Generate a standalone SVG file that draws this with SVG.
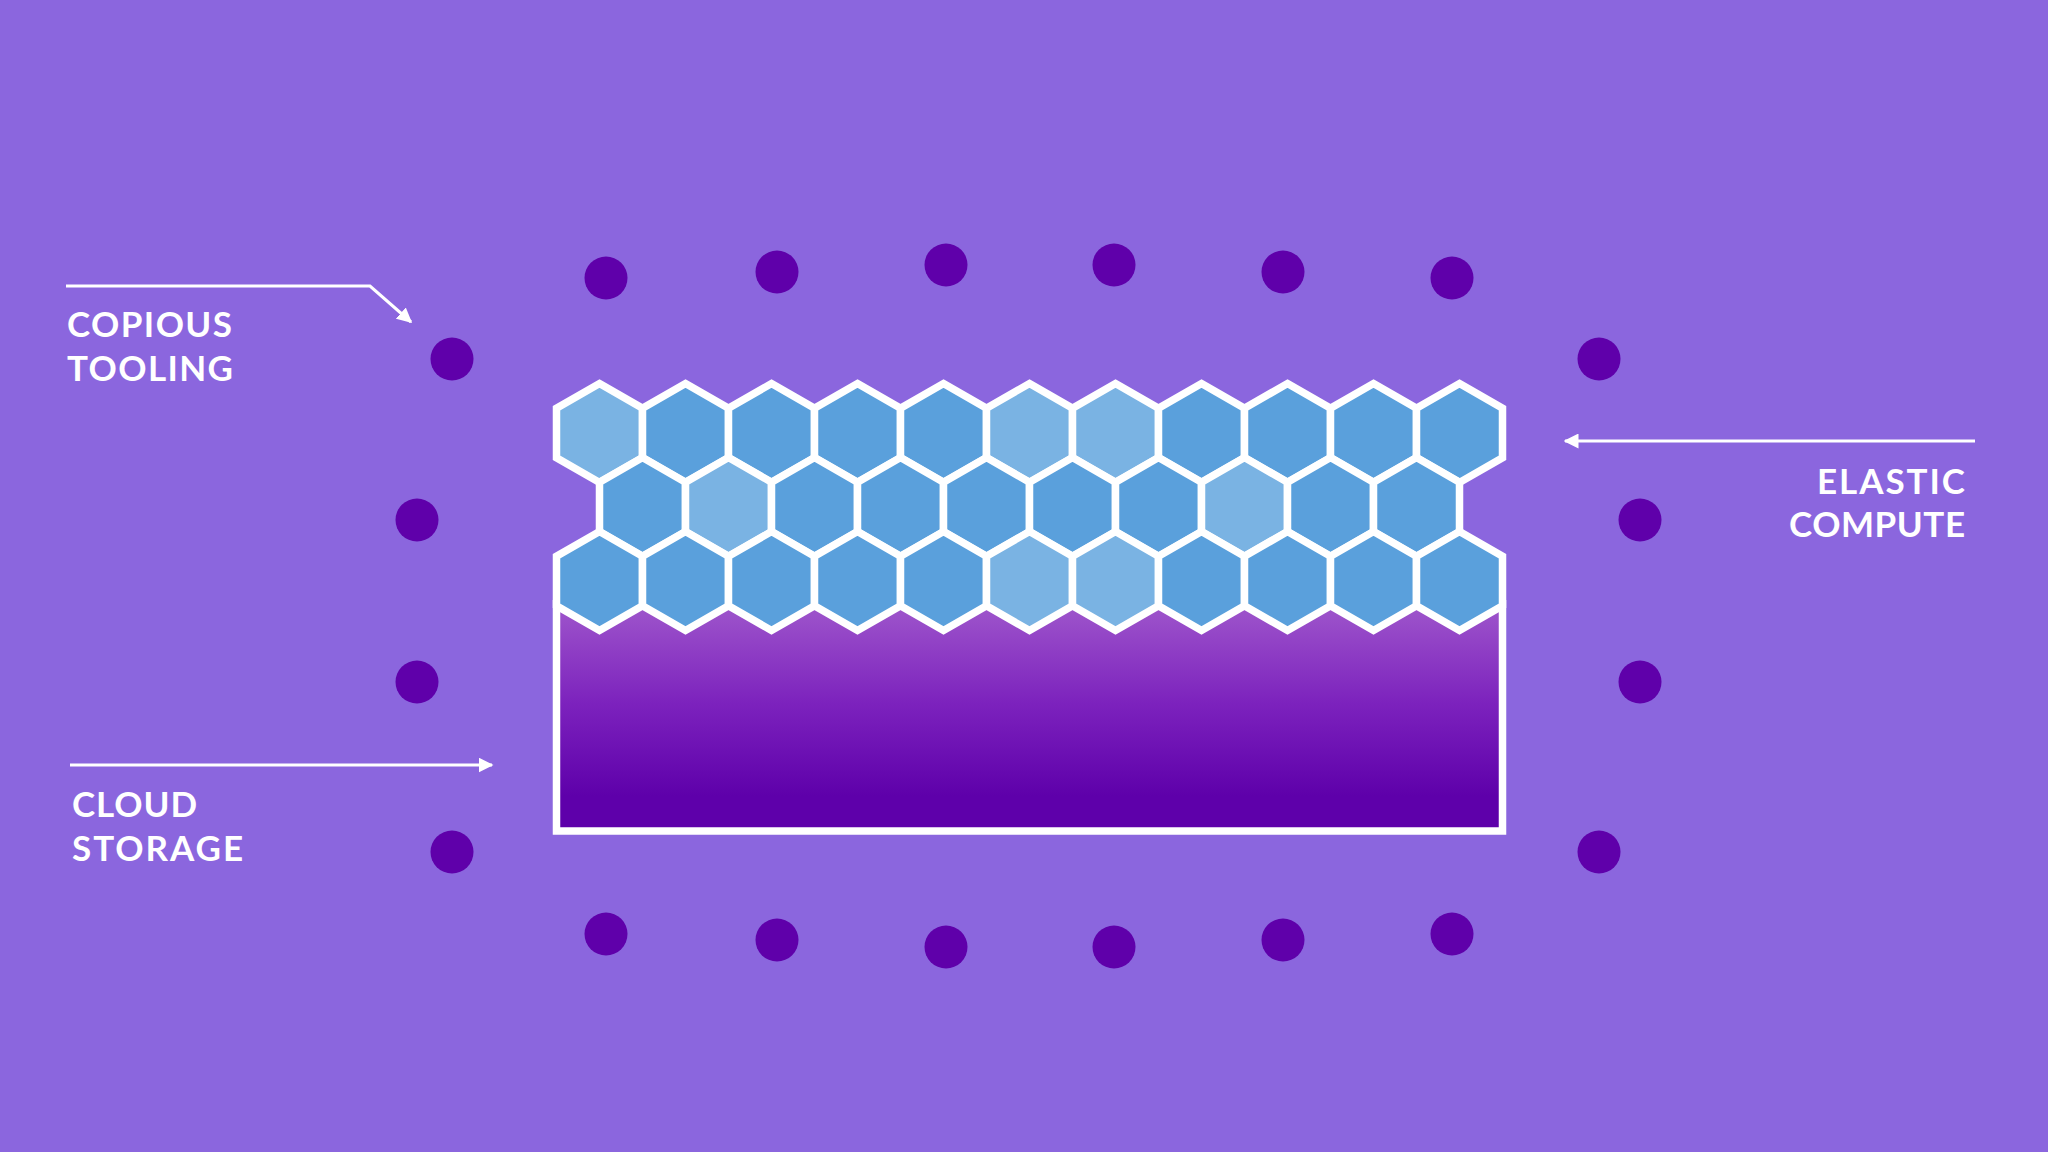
<svg xmlns="http://www.w3.org/2000/svg" xmlns:xlink="http://www.w3.org/1999/xlink" width="2048" height="1152" viewBox="0 0 2048 1152">
<defs>
<style>
.dot{fill:#5f00aa}
.hex{fill:#5aa0dc;stroke:#ffffff;stroke-width:7.5;stroke-linejoin:miter}
.hexl{fill:#7ab3e3;stroke:#ffffff;stroke-width:7.5;stroke-linejoin:miter}
.lbl{font-family:Lato,"Open Sans","Liberation Sans",sans-serif;font-weight:700;font-size:35px;fill:#ffffff}
.con{stroke:#ffffff;stroke-width:3;fill:none}
</style>
<linearGradient id="g" x1="0" y1="600" x2="0" y2="831" gradientUnits="userSpaceOnUse">
<stop offset="0" stop-color="#a058cc"/>
<stop offset="0.45" stop-color="#7c22bd"/>
<stop offset="0.85" stop-color="#5e00aa"/>
<stop offset="1" stop-color="#5e00aa"/>
</linearGradient>
<polygon id="h" points="0,-49.5 43,-24.75 43,24.75 0,49.5 -43,24.75 -43,-24.75"/>
<marker id="ah" viewBox="0 0 10 10" refX="9" refY="5" markerWidth="5" markerHeight="5" markerUnits="strokeWidth" orient="auto">
<path d="M0,0 L10,5 L0,10 z" fill="#ffffff"/>
</marker>
</defs>
<rect width="2048" height="1152" fill="#8b66de"/>

<g id="dots">
<circle class="dot" cx="606" cy="278" r="21.5"/>
<circle class="dot" cx="777" cy="272" r="21.5"/>
<circle class="dot" cx="946" cy="265" r="21.5"/>
<circle class="dot" cx="1114" cy="265" r="21.5"/>
<circle class="dot" cx="1283" cy="272" r="21.5"/>
<circle class="dot" cx="1452" cy="278" r="21.5"/>
<circle class="dot" cx="606" cy="934" r="21.5"/>
<circle class="dot" cx="777" cy="940" r="21.5"/>
<circle class="dot" cx="946" cy="947" r="21.5"/>
<circle class="dot" cx="1114" cy="947" r="21.5"/>
<circle class="dot" cx="1283" cy="940" r="21.5"/>
<circle class="dot" cx="1452" cy="934" r="21.5"/>
<circle class="dot" cx="452" cy="359" r="21.5"/>
<circle class="dot" cx="417" cy="520" r="21.5"/>
<circle class="dot" cx="417" cy="682" r="21.5"/>
<circle class="dot" cx="452" cy="852" r="21.5"/>
<circle class="dot" cx="1599" cy="359" r="21.5"/>
<circle class="dot" cx="1640" cy="520" r="21.5"/>
<circle class="dot" cx="1640" cy="682" r="21.5"/>
<circle class="dot" cx="1599" cy="852" r="21.5"/>
</g>

<g id="storage">
<rect x="556.5" y="581" width="946" height="250" fill="url(#g)"/>
<path d="M556.5,600 V831 H1502.5 V600" fill="none" stroke="#ffffff" stroke-width="7.5"/>
</g>

<g id="compute">
<g id="row1">
<use href="#h" class="hexl" x="599.5" y="433"/>
<use href="#h" class="hex" x="685.5" y="433"/>
<use href="#h" class="hex" x="771.5" y="433"/>
<use href="#h" class="hex" x="857.5" y="433"/>
<use href="#h" class="hex" x="943.5" y="433"/>
<use href="#h" class="hexl" x="1029.5" y="433"/>
<use href="#h" class="hexl" x="1115.5" y="433"/>
<use href="#h" class="hex" x="1201.5" y="433"/>
<use href="#h" class="hex" x="1287.5" y="433"/>
<use href="#h" class="hex" x="1373.5" y="433"/>
<use href="#h" class="hex" x="1459.5" y="433"/>
</g>
<g id="row2">
<use href="#h" class="hex" x="642.5" y="507"/>
<use href="#h" class="hexl" x="728.5" y="507"/>
<use href="#h" class="hex" x="814.5" y="507"/>
<use href="#h" class="hex" x="900.5" y="507"/>
<use href="#h" class="hex" x="986.5" y="507"/>
<use href="#h" class="hex" x="1072.5" y="507"/>
<use href="#h" class="hex" x="1158.5" y="507"/>
<use href="#h" class="hexl" x="1244.5" y="507"/>
<use href="#h" class="hex" x="1330.5" y="507"/>
<use href="#h" class="hex" x="1416.5" y="507"/>
</g>
<g id="row3">
<use href="#h" class="hex" x="599.5" y="581"/>
<use href="#h" class="hex" x="685.5" y="581"/>
<use href="#h" class="hex" x="771.5" y="581"/>
<use href="#h" class="hex" x="857.5" y="581"/>
<use href="#h" class="hex" x="943.5" y="581"/>
<use href="#h" class="hexl" x="1029.5" y="581"/>
<use href="#h" class="hexl" x="1115.5" y="581"/>
<use href="#h" class="hex" x="1201.5" y="581"/>
<use href="#h" class="hex" x="1287.5" y="581"/>
<use href="#h" class="hex" x="1373.5" y="581"/>
<use href="#h" class="hex" x="1459.5" y="581"/>
</g>
</g>

<g id="connectors">
<path class="con" d="M66,286 L370,286 L411,322" marker-end="url(#ah)"/>
<path class="con" d="M70,765 L492,765" marker-end="url(#ah)"/>
<path class="con" d="M1975,441 L1565,441" marker-end="url(#ah)"/>
</g>

<g id="label-tooling">
<text class="lbl"><tspan x="67" y="337" textLength="165" lengthAdjust="spacing">COPIOUS</tspan><tspan x="67" y="381" textLength="166" lengthAdjust="spacing">TOOLING</tspan></text>
</g>
<g id="label-storage">
<text class="lbl"><tspan x="72" y="817" textLength="125" lengthAdjust="spacing">CLOUD</tspan><tspan x="72" y="861" textLength="171" lengthAdjust="spacing">STORAGE</tspan></text>
</g>
<g id="label-compute">
<text class="lbl"><tspan x="1817" y="494" textLength="148" lengthAdjust="spacing">ELASTIC</tspan><tspan x="1789" y="537" textLength="176" lengthAdjust="spacing">COMPUTE</tspan></text>
</g>
</svg>
